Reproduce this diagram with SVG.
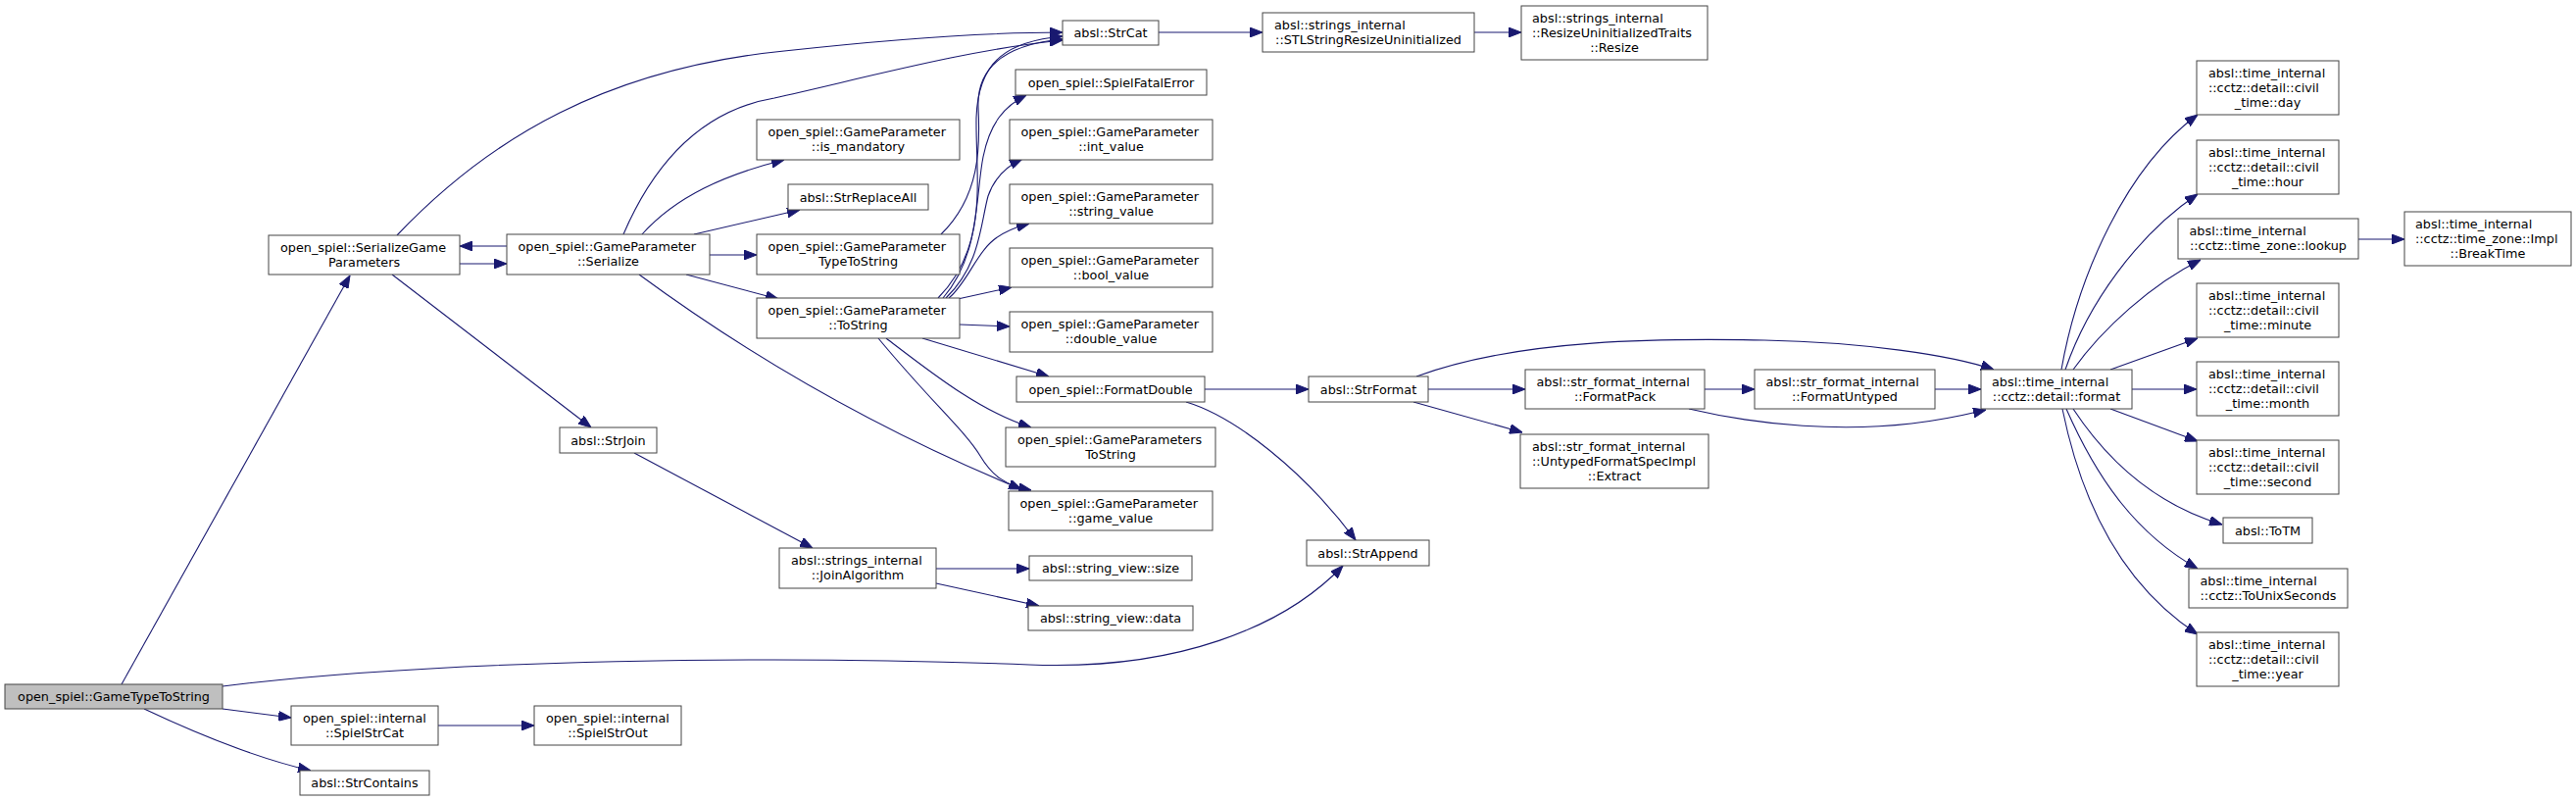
<svg xmlns="http://www.w3.org/2000/svg" width="2628" height="817" viewBox="0 0 2628 817">
<style>
.node rect{fill:#fff;stroke:#444;stroke-width:1}
.node text{font-family:"DejaVu Sans","Liberation Sans",sans-serif;font-size:12.8px;fill:#000}
.node .m{text-anchor:middle}
.node .s{text-anchor:start}
#n_gtts rect{fill:#bfbfbf}
.edges path{fill:none;stroke:#191970;stroke-width:1.1;marker-end:url(#arr)}
</style>
<defs>
<marker id="arr" viewBox="0 0 13 10" refX="13" refY="5" markerWidth="13" markerHeight="10" markerUnits="userSpaceOnUse" orient="auto">
<path d="M0,0 L13,5 L0,10 z" fill="#191970" stroke="#191970" stroke-width="1"/>
</marker>
</defs>
<rect width="2628" height="817" fill="#fff"/>
<g class="edges">
<path d="M124,698 L357,281"/>
<path d="M227,700 C450,672 800,668 1050,678 C1200,684 1310,640 1370,577"/>
<path d="M227,723 L297,732"/>
<path d="M147,723 C200,748 265,774 317,786"/>
<path d="M447,740 L545,740"/>
<path d="M405,240 C500,140 620,70 800,52 C900,41 1000,33 1084,33"/>
<path d="M469,269 L517,269"/>
<path d="M517,251 L469,251"/>
<path d="M400,280 L603,436"/>
<path d="M636,239 C670,160 720,112 790,100 C880,80 990,50 1084,41"/>
<path d="M655,239 C690,200 740,178 800,163"/>
<path d="M708,239 L816,214"/>
<path d="M724,260 L772,260"/>
<path d="M700,280 L794,305"/>
<path d="M652,280 C720,330 850,420 1042,499"/>
<path d="M960,239 C1000,200 1000,150 998,110 C996,65 1030,45 1084,40"/>
<path d="M957,304 C1010,250 995,180 996,120 C998,60 1030,42 1084,37"/>
<path d="M962,304 C1000,260 995,200 1003,160 C1010,125 1025,108 1047,97"/>
<path d="M965,304 C1000,270 1000,230 1008,200 C1015,180 1030,168 1043,162"/>
<path d="M968,304 C985,290 995,262 1010,248 C1020,238 1035,232 1050,228"/>
<path d="M977,305 L1032,293"/>
<path d="M979,331 L1030,333"/>
<path d="M941,345 L1070,384"/>
<path d="M904,345 C950,380 1000,420 1052,436"/>
<path d="M896,345 C950,410 985,440 1000,465 C1012,485 1025,495 1052,500"/>
<path d="M647,462 L829,559"/>
<path d="M955,580 L1050,580"/>
<path d="M955,595 L1060,618"/>
<path d="M1182,33 L1288,33"/>
<path d="M1504,33 L1552,33"/>
<path d="M1229,397 L1335,397"/>
<path d="M1210,410 C1260,425 1330,480 1383,551"/>
<path d="M1457,397 L1556,397"/>
<path d="M1442,410 L1553,441"/>
<path d="M1445,384 C1550,345 1700,345 1800,347 C1900,349 1990,362 2034,377"/>
<path d="M1739,397 L1790,397"/>
<path d="M1723,417 C1800,435 1880,440 1950,432 C1985,428 2005,423 2026,418"/>
<path d="M1974,397 L2021,397"/>
<path d="M2103,377 C2120,280 2170,170 2242,117"/>
<path d="M2107,377 C2130,310 2180,240 2242,198"/>
<path d="M2115,377 C2145,335 2195,290 2245,265"/>
<path d="M2153,377 L2242,345"/>
<path d="M2175,397 L2241,397"/>
<path d="M2153,417 L2242,450"/>
<path d="M2115,417 C2150,470 2200,515 2267,535"/>
<path d="M2108,417 C2140,490 2180,545 2242,580"/>
<path d="M2104,417 C2125,520 2170,600 2242,647"/>
<path d="M2406,244 L2453,244"/>
</g>
<g id="n_gtts" class="node"><rect x="5" y="698" width="222" height="25"/><text class="m" x="116" y="715">open_spiel::GameTypeToString</text></g>
<g id="n_sgp" class="node"><rect x="274" y="240" width="195" height="40"/><text class="s" x="286" y="256.5">open_spiel::SerializeGame</text><text class="m" x="371.5" y="271.5">Parameters</text></g>
<g id="n_serialize" class="node"><rect x="517" y="239" width="207" height="41"/><text class="s" x="528.5" y="256">open_spiel::GameParameter</text><text class="m" x="620.5" y="271">::Serialize</text></g>
<g id="n_is_mandatory" class="node"><rect x="772" y="122" width="207" height="41"/><text class="s" x="783.5" y="139">open_spiel::GameParameter</text><text class="m" x="875.5" y="154">::is_mandatory</text></g>
<g id="n_strreplaceall" class="node"><rect x="804" y="188" width="143" height="26"/><text class="m" x="875.5" y="205.5">absl::StrReplaceAll</text></g>
<g id="n_gptypetostring" class="node"><rect x="772" y="239" width="207" height="41"/><text class="s" x="783.5" y="256">open_spiel::GameParameter</text><text class="m" x="875.5" y="271">TypeToString</text></g>
<g id="n_tostring" class="node"><rect x="772" y="304" width="207" height="41"/><text class="s" x="783.5" y="321">open_spiel::GameParameter</text><text class="m" x="875.5" y="336">::ToString</text></g>
<g id="n_strjoin" class="node"><rect x="571" y="436" width="99" height="26"/><text class="m" x="620.5" y="453.5">absl::StrJoin</text></g>
<g id="n_joinalgorithm" class="node"><rect x="795" y="559" width="160" height="41"/><text class="s" x="807" y="576">absl::strings_internal</text><text class="m" x="875" y="591">::JoinAlgorithm</text></g>
<g id="n_spielstrcat" class="node"><rect x="297" y="720" width="150" height="40"/><text class="s" x="309" y="736.5">open_spiel::internal</text><text class="m" x="372" y="751.5">::SpielStrCat</text></g>
<g id="n_spielstrout" class="node"><rect x="545" y="720" width="150" height="40"/><text class="s" x="557" y="736.5">open_spiel::internal</text><text class="m" x="620" y="751.5">::SpielStrOut</text></g>
<g id="n_strcontains" class="node"><rect x="306" y="786" width="132" height="25"/><text class="m" x="372" y="803">absl::StrContains</text></g>
<g id="n_strcat" class="node"><rect x="1084" y="21" width="98" height="25"/><text class="m" x="1133" y="38">absl::StrCat</text></g>
<g id="n_stlresize" class="node"><rect x="1288" y="13" width="216" height="40"/><text class="s" x="1300" y="29.7">absl::strings_internal</text><text class="m" x="1396" y="44.7">::STLStringResizeUninitialized</text></g>
<g id="n_resize" class="node"><rect x="1552" y="6" width="190" height="55"/><text class="s" x="1563" y="22.7">absl::strings_internal</text><text class="s" x="1563" y="37.7">::ResizeUninitializedTraits</text><text class="m" x="1647" y="52.7">::Resize</text></g>
<g id="n_spielfatalerror" class="node"><rect x="1036" y="71" width="195" height="26"/><text class="m" x="1133.5" y="88.5">open_spiel::SpielFatalError</text></g>
<g id="n_int_value" class="node"><rect x="1030" y="122" width="207" height="41"/><text class="s" x="1041.5" y="139">open_spiel::GameParameter</text><text class="m" x="1133.5" y="154">::int_value</text></g>
<g id="n_string_value" class="node"><rect x="1030" y="188" width="207" height="40"/><text class="s" x="1041.5" y="204.7">open_spiel::GameParameter</text><text class="m" x="1133.5" y="219.7">::string_value</text></g>
<g id="n_bool_value" class="node"><rect x="1030" y="253" width="207" height="40"/><text class="s" x="1041.5" y="269.7">open_spiel::GameParameter</text><text class="m" x="1133.5" y="284.7">::bool_value</text></g>
<g id="n_double_value" class="node"><rect x="1030" y="318" width="207" height="41"/><text class="s" x="1041.5" y="335">open_spiel::GameParameter</text><text class="m" x="1133.5" y="350">::double_value</text></g>
<g id="n_formatdouble" class="node"><rect x="1037" y="384" width="192" height="26"/><text class="m" x="1133" y="401.5">open_spiel::FormatDouble</text></g>
<g id="n_gpstostring" class="node"><rect x="1026" y="436" width="214" height="40"/><text class="s" x="1038" y="452.7">open_spiel::GameParameters</text><text class="m" x="1133" y="467.7">ToString</text></g>
<g id="n_game_value" class="node"><rect x="1029" y="501" width="208" height="40"/><text class="s" x="1040.5" y="517.7">open_spiel::GameParameter</text><text class="m" x="1133" y="532.7">::game_value</text></g>
<g id="n_sv_size" class="node"><rect x="1050" y="567" width="166" height="25"/><text class="m" x="1133" y="584">absl::string_view::size</text></g>
<g id="n_sv_data" class="node"><rect x="1049" y="618" width="168" height="25"/><text class="m" x="1133" y="635">absl::string_view::data</text></g>
<g id="n_strappend" class="node"><rect x="1333" y="551" width="125" height="26"/><text class="m" x="1395.5" y="568.5">absl::StrAppend</text></g>
<g id="n_strformat" class="node"><rect x="1335" y="384" width="122" height="26"/><text class="m" x="1396" y="401.5">absl::StrFormat</text></g>
<g id="n_formatpack" class="node"><rect x="1556" y="377" width="183" height="40"/><text class="s" x="1567.5" y="393.7">absl::str_format_internal</text><text class="m" x="1647.5" y="408.7">::FormatPack</text></g>
<g id="n_extract" class="node"><rect x="1551" y="443" width="192" height="55"/><text class="s" x="1563" y="459.7">absl::str_format_internal</text><text class="s" x="1563" y="474.7">::UntypedFormatSpecImpl</text><text class="m" x="1647" y="489.7">::Extract</text></g>
<g id="n_formatuntyped" class="node"><rect x="1790" y="377" width="184" height="40"/><text class="s" x="1801.5" y="393.7">absl::str_format_internal</text><text class="m" x="1882" y="408.7">::FormatUntyped</text></g>
<g id="n_format" class="node"><rect x="2021" y="377" width="154" height="40"/><text class="s" x="2032" y="393.7">absl::time_internal</text><text class="m" x="2098" y="408.7">::cctz::detail::format</text></g>
<g id="n_day" class="node"><rect x="2241" y="62" width="145" height="55"/><text class="s" x="2253" y="78.7">absl::time_internal</text><text class="s" x="2253" y="93.7">::cctz::detail::civil</text><text class="m" x="2313.5" y="108.7">_time::day</text></g>
<g id="n_hour" class="node"><rect x="2241" y="143" width="145" height="55"/><text class="s" x="2253" y="159.7">absl::time_internal</text><text class="s" x="2253" y="174.7">::cctz::detail::civil</text><text class="m" x="2313.5" y="189.7">_time::hour</text></g>
<g id="n_lookup" class="node"><rect x="2222" y="223" width="184" height="41"/><text class="s" x="2233.5" y="240">absl::time_internal</text><text class="m" x="2314" y="255">::cctz::time_zone::lookup</text></g>
<g id="n_breaktime" class="node"><rect x="2453" y="216" width="170" height="55"/><text class="s" x="2464" y="232.7">absl::time_internal</text><text class="s" x="2464" y="247.7">::cctz::time_zone::Impl</text><text class="m" x="2538" y="262.7">::BreakTime</text></g>
<g id="n_minute" class="node"><rect x="2241" y="289" width="145" height="55"/><text class="s" x="2253" y="305.7">absl::time_internal</text><text class="s" x="2253" y="320.7">::cctz::detail::civil</text><text class="m" x="2313.5" y="335.7">_time::minute</text></g>
<g id="n_month" class="node"><rect x="2241" y="369" width="145" height="55"/><text class="s" x="2253" y="385.7">absl::time_internal</text><text class="s" x="2253" y="400.7">::cctz::detail::civil</text><text class="m" x="2313.5" y="415.7">_time::month</text></g>
<g id="n_second" class="node"><rect x="2241" y="449" width="145" height="55"/><text class="s" x="2253" y="465.7">absl::time_internal</text><text class="s" x="2253" y="480.7">::cctz::detail::civil</text><text class="m" x="2313.5" y="495.7">_time::second</text></g>
<g id="n_totm" class="node"><rect x="2268" y="528" width="91" height="26"/><text class="m" x="2313.5" y="545.5">absl::ToTM</text></g>
<g id="n_tounixseconds" class="node"><rect x="2233" y="580" width="162" height="40"/><text class="s" x="2244.5" y="596.7">absl::time_internal</text><text class="m" x="2314" y="611.7">::cctz::ToUnixSeconds</text></g>
<g id="n_year" class="node"><rect x="2241" y="645" width="145" height="55"/><text class="s" x="2253" y="661.7">absl::time_internal</text><text class="s" x="2253" y="676.7">::cctz::detail::civil</text><text class="m" x="2313.5" y="691.7">_time::year</text></g>
</svg>
